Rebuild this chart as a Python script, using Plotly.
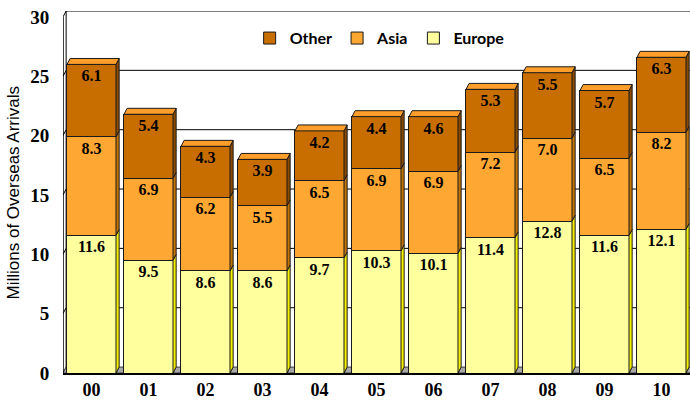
import plotly.graph_objects as go

years = ["00", "01", "02", "03", "04", "05", "06", "07", "08", "09", "10"]
europe = [11.6, 9.5, 8.6, 8.6, 9.7, 10.3, 10.1, 11.4, 12.8, 11.6, 12.1]
asia = [8.3, 6.9, 6.2, 5.5, 6.5, 6.9, 6.9, 7.2, 7.0, 6.5, 8.2]
other = [6.1, 5.4, 4.3, 3.9, 4.2, 4.4, 4.6, 5.3, 5.5, 5.7, 6.3]
y_ticks = [0, 5, 10, 15, 20, 25, 30]

x = list(range(len(years)))
W = 0.86
DX, DY = 0.055, 0.5
XMIN, XMAX = -0.5, len(years) - 0.5
YMAX = y_ticks[-1] + DY

series = [
    ("Europe", europe, "#FFFF9E", "#F5F000"),
    ("Asia", asia, "#FFA733", "#C27400"),
    ("Other", other, "#C86E00", "#8A4A00"),
]
EDGE = "#1a1a1a"

fig = go.Figure()
for name, vals, col, side in series:
    fig.add_trace(go.Bar(
        x=x, y=vals, name=name, width=W,
        marker=dict(color=col, line=dict(color=EDGE, width=1)),
        text=[f"{v:.1f}" for v in vals], textposition="inside",
        insidetextanchor="end", constraintext="none",
        textfont=dict(family="Liberation Serif", size=16, color="black", weight="bold"),
        textangle=0, hoverinfo="skip",
    ))

shapes = []
for t in y_ticks[1:]:
    shapes.append(dict(type="line", xref="x", yref="y", x0=XMIN + DX, x1=XMAX, y0=t + DY, y1=t + DY,
                       line=dict(color="black", width=1), layer="below"))
for t in y_ticks:
    shapes.append(dict(type="line", xref="x", yref="y", x0=XMIN, x1=XMIN + DX, y0=t, y1=t + DY,
                       line=dict(color="black", width=1), layer="below"))
shapes.append(dict(type="line", xref="x", yref="y", x0=XMIN + DX, x1=XMIN + DX, y0=DY, y1=YMAX,
                   line=dict(color="black", width=1), layer="below"))
shapes.append(dict(type="line", xref="x", yref="y", x0=XMIN, x1=XMIN, y0=0, y1=y_ticks[-1],
                   line=dict(color="black", width=1.5), layer="above"))
shapes.append(dict(type="path", xref="x", yref="y",
                   path=f"M {XMIN},0 L {XMIN+DX},{DY} L {-W/2+DX},{DY} L {-W/2},0 Z",
                   fillcolor="#A8A8A8", line=dict(color="#404040", width=1), layer="below"))
for i in x:
    base = 0.0
    x0 = i - W / 2
    x1 = i + W / 2
    for name, vals, col, side in series:
        top = base + vals[i]
        shapes.append(dict(type="path", xref="x", yref="y",
                           path=f"M {x1},{base} L {x1+DX},{base+DY} L {x1+DX},{top+DY} L {x1},{top} Z",
                           fillcolor=side, line=dict(color=EDGE, width=1), layer="above"))
        base = top
    shapes.append(dict(type="path", xref="x", yref="y",
                       path=f"M {x0},{base} L {x0+DX},{base+DY} L {x1+DX},{base+DY} L {x1},{base} Z",
                       fillcolor="#FF9E2A", line=dict(color=EDGE, width=1), layer="above"))
    nxt = min(i + 1 - W / 2, XMAX)
    shapes.append(dict(type="path", xref="x", yref="y",
                       path=f"M {x1},0 L {x1+DX},{DY} L {nxt+DX},{DY} L {nxt},0 Z",
                       fillcolor="#A8A8A8", line=dict(color="#404040", width=1), layer="below"))

fig.update_layout(
    barmode="stack",
    width=690, height=402,
    margin=dict(l=63, r=0, t=11, b=29),
    paper_bgcolor="white", plot_bgcolor="white",
    shapes=shapes,
    showlegend=True,
    hovermode=False,
    legend=dict(orientation="h", x=0.505, xanchor="center", y=0.925, yanchor="middle",
                traceorder="reversed", bgcolor="rgba(0,0,0,0)",
                font=dict(family="Lato", size=16, color="black", weight="bold"),
                itemwidth=30, tracegroupgap=0),
    xaxis=dict(tickvals=x, ticktext=years, range=[XMIN, XMAX], showgrid=False,
               showline=True, linecolor="black", linewidth=1.5, ticks="",
               automargin=False, zeroline=False,
               tickfont=dict(family="Liberation Serif", size=18, color="black", weight="bold")),
    yaxis=dict(range=[0, YMAX], tickvals=y_ticks, showgrid=False, showline=False,
               ticks="outside", ticklen=9, tickcolor="rgba(0,0,0,0)",
               automargin=False, zeroline=False,
               tickfont=dict(family="Liberation Serif", size=19, color="black", weight="bold")),
    bargap=1 - W,
    annotations=[dict(text="Millions of Overseas Arrivals", xref="paper", yref="paper",
                      x=-0.079, y=0.5, xanchor="center", yanchor="middle", textangle=-90,
                      showarrow=False,
                      font=dict(family="Liberation Sans", size=17, color="black"))],
)

fig.write_html("out.html", config={"displayModeBar": False},
               post_script="document.body.style.margin='0';")
